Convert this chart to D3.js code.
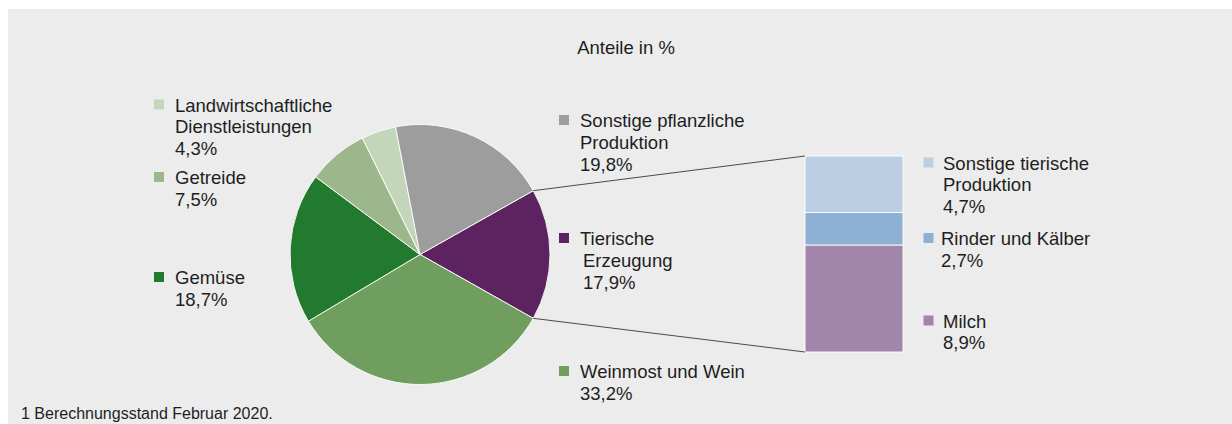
<!DOCTYPE html>
<html>
<head>
<meta charset="utf-8">
<script src="https://cdn.jsdelivr.net/npm/d3@7"></script>
<style>
  html, body { margin: 0; padding: 0; background: #ffffff; }
  svg { display: block; }
  text { font-family: "Liberation Sans", Arial, sans-serif; fill: #1e1e1e; }
</style>
</head>
<body>
<svg id="chart" width="1232" height="424"></svg>
<script>
// ---------- data ----------
const title = "Anteile in %";
const footnote = "1 Berechnungsstand Februar 2020.";

const pieCategories = ["Tierische Erzeugung", "Weinmost und Wein", "Gemüse", "Getreide",
                       "Landwirtschaftliche Dienstleistungen", "Sonstige pflanzliche Produktion"];
const pieShares = [17.9, 33.2, 18.7, 7.5, 4.3, 19.8];
const pieColors = ["#5c2360", "#6f9e5f", "#217a2d", "#9bb78b", "#c4d6b9", "#9d9d9d"];

const barCategories = ["Milch", "Rinder und Kälber", "Sonstige tierische Produktion"];
const barShares = [8.9, 2.7, 4.7];
const barColors = ["#a285ab", "#8db0d4", "#bccee4"];

// ---------- setup ----------
const svg = d3.select("#chart");
const W = 1232, H = 424;
const de = d3.formatLocale({decimal: ",", thousands: ".", grouping: [3], currency: ["", " €"]});
const fmt = v => de.format(".1f")(v) + "%";

svg.append("rect").attr("x", 0).attr("y", 0).attr("width", W).attr("height", H).attr("fill", "#ffffff");
svg.append("rect").attr("x", 8).attr("y", 9).attr("width", W - 8).attr("height", H - 9).attr("fill", "#ececec");

svg.append("text").attr("x", 626).attr("y", 54).attr("text-anchor", "middle")
  .style("font-size", "18.5px").text(title);
svg.append("text").attr("x", 21).attr("y", 419).style("font-size", "16px").text(footnote);

// ---------- pie (pie-of-bar: the "Tierische" slice is drawn as the sum of its breakdown) ----------
const cx = 420, cy = 254.5, R = 130;
const pieDrawn = pieShares.map((v, i) => i === 0 ? d3.sum(barShares) : v);
const tierAngle = pieDrawn[0] / d3.sum(pieDrawn) * 2 * Math.PI;
const a0 = Math.PI / 2 - tierAngle / 2;
const pie = d3.pie().sort(null).value(d => d).startAngle(a0).endAngle(a0 + 2 * Math.PI);
const arcs = pie(pieDrawn);
const arc = d3.arc().innerRadius(0).outerRadius(R);

const gPie = svg.append("g").attr("transform", `translate(${cx},${cy})`);
gPie.selectAll("path").data(arcs).join("path")
  .attr("d", arc)
  .attr("fill", (d, i) => pieColors[i])
  .attr("stroke", "#ffffff").attr("stroke-width", 0.9).attr("stroke-linejoin", "round");

// ---------- bar ----------
const x = d3.scaleBand().domain(["Tierische Erzeugung"]).range([805, 903]).padding(0);
const y = d3.scaleLinear().domain([0, d3.sum(barShares)]).range([352, 156]);
let acc = 0;
const stacked = barShares.map((v, i) => { const s = {y0: acc, y1: acc + v, i}; acc += v; return s; });
svg.append("g").selectAll("rect").data(stacked).join("rect")
  .attr("x", x("Tierische Erzeugung"))
  .attr("width", x.bandwidth())
  .attr("y", d => y(d.y1))
  .attr("height", d => y(d.y0) - y(d.y1))
  .attr("fill", d => barColors[d.i])
  .attr("stroke", "#ffffff").attr("stroke-width", 0.9);

// ---------- connector lines ----------
const pt = a => [cx + R * Math.sin(a), cy - R * Math.cos(a)];
const pTop = pt(arcs[0].startAngle), pBot = pt(arcs[0].endAngle);
const bx = x("Tierische Erzeugung");
svg.append("line").attr("x1", pTop[0]).attr("y1", pTop[1]).attr("x2", bx).attr("y2", y(d3.sum(barShares)))
  .attr("stroke", "#4a4a4a").attr("stroke-width", 1);
svg.append("line").attr("x1", pBot[0]).attr("y1", pBot[1]).attr("x2", bx).attr("y2", y(0))
  .attr("stroke", "#4a4a4a").attr("stroke-width", 1);

// ---------- labels ----------
const wrap = s => {
  if (s.length <= 17) return [s];
  const k = s.lastIndexOf(" ");
  return [s.slice(0, k), s.slice(k + 1)];
};
const LH = 21.8;
function label(name, value, color, sx, sy, tx, indent) {
  const g = svg.append("g");
  g.append("rect").attr("x", sx).attr("y", sy).attr("width", 10).attr("height", 10).attr("fill", color);
  const lines = wrap(name).concat([fmt(value)]);
  const base = sy + 12;
  lines.forEach((l, k) => {
    g.append("text").attr("x", tx + (k > 0 ? (indent || 0) : 0)).attr("y", base + k * LH)
      .style("font-size", "18.5px").text(l);
  });
}
const pieLabelPos = {
  "Landwirtschaftliche Dienstleistungen": [154, 99.5, 175, 0],
  "Getreide": [154, 172, 175, 0],
  "Gemüse": [154, 272, 175, 0],
  "Sonstige pflanzliche Produktion": [559, 115, 580, 0],
  "Tierische Erzeugung": [559, 233, 580, 3],
  "Weinmost und Wein": [559, 366, 580, 0]
};
pieCategories.forEach((c, i) => {
  const p = pieLabelPos[c];
  label(c, pieShares[i], pieColors[i], p[0], p[1], p[2], p[3]);
});
const barLabelPos = {
  "Sonstige tierische Produktion": [923.5, 157.5, 943],
  "Rinder und Kälber": [923.5, 233, 941],
  "Milch": [923.5, 315.5, 943]
};
barCategories.forEach((c, i) => {
  const p = barLabelPos[c];
  label(c, barShares[i], barColors[i], p[0], p[1], p[2], 0);
});
</script>
</body>
</html>
